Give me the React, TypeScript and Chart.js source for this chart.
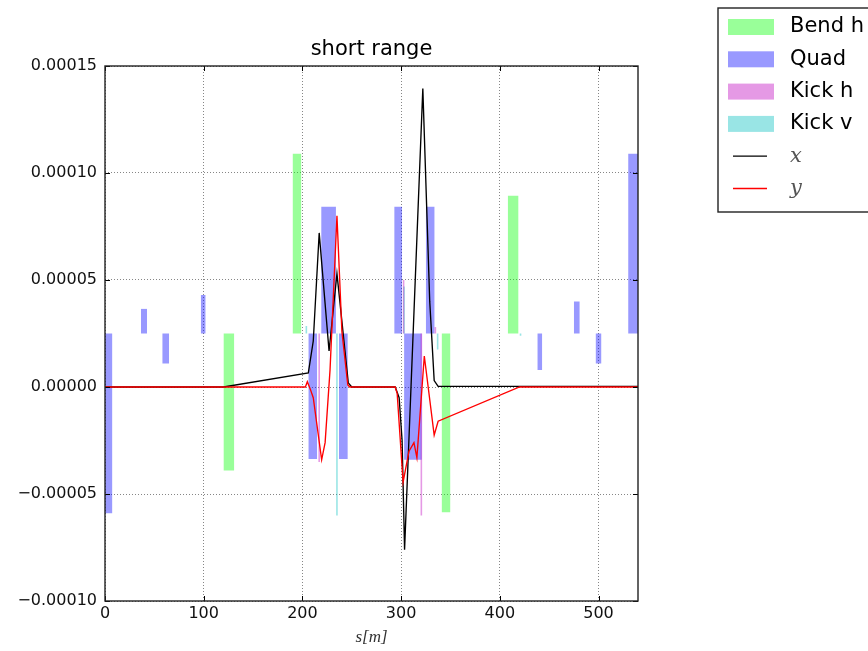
import React, { useEffect, useRef } from "react";
import { Chart, registerables } from "chart.js";

Chart.register(...registerables);

// ---- data ----
const TITLE = "short range";
const BASE = 0.000025; // element baseline
const X_MAX = 540;
const xTicks = [0, 100, 200, 300, 400, 500];
const yTicks = [-0.0001, -0.00005, 0, 0.00005, 0.0001, 0.00015];

const bendStart = [120, 190, 341, 408];
const bendEnd = [131, 199, 350, 419];
const bendValue = [-0.000039, 0.000109, -0.0000585, 0.0000894];

const quadStart = [0, 36.5, 58, 97, 206, 219, 237, 293, 303, 325, 438, 475, 497, 530];
const quadEnd = [7.5, 42.6, 65, 102, 215, 234, 246, 301, 321, 334, 443, 481, 503, 540];
const quadValue = [
  -0.000059, 0.0000365, 0.000011, 0.000043, -0.0000337, 0.0000842, -0.0000337,
  0.0000842, -0.000034, 0.0000842, 0.000008, 0.00004, 0.000011, 0.000109,
];

const kickHPos = [217, 302.5, 320.5, 334.7];
const kickHValue = [-0.000035, 0.00005, -0.00006, 0.000028];

const kickVPos = [204, 235, 303, 337, 421];
const kickVValue = [0.0000285, -0.00006, 0.000047, 0.0000175, 0.000024];

const xLineS = [0, 120, 206, 211, 217, 227, 235, 246.5, 250, 294, 298, 301, 303.5, 322, 329, 333.5, 337.5, 540];
const xLineV = [0, 0, 0.0000066, 0.0000215, 0.000072, 0.0000168, 0.000053, 0.0000019, 0, 0, -0.000005, -0.000025, -0.000076, 0.0001395, 0.00004, 0.000003, 0.0000003, 0.0000003];

const yLineS = [0, 203, 205, 208, 211, 219.5, 223, 228, 235, 240, 246, 248, 294, 296, 302, 308, 313, 316, 323.5, 333.5, 337.5, 420, 540];
const yLineV = [0, 0, 0.0000025, -0.000001, -0.000005, -0.000034, -0.000026, 0.000008, 0.00008, 0.000026, 0.000001, 0, 0, -0.000003, -0.0000445, -0.00003, -0.000026, -0.000033, 0.0000145, -0.0000225, -0.000016, 0, 0];

const BEND_COLOR = "rgba(0,255,0,0.4)";
const QUAD_COLOR = "rgba(0,0,255,0.4)";
const KICKH_COLOR = "rgba(191,0,191,0.4)";
const KICKV_COLOR = "rgba(0,191,191,0.4)";

const legendItems = [
  { label: "Bend h", color: BEND_COLOR, kind: "box" },
  { label: "Quad", color: QUAD_COLOR, kind: "box" },
  { label: "Kick h", color: KICKH_COLOR, kind: "box" },
  { label: "Kick v", color: KICKV_COLOR, kind: "box" },
  { label: "x", color: "#000", kind: "line" },
  { label: "y", color: "#ff0000", kind: "line" },
];

function rectDataset(label: string, s0: number, s1: number, v: number, color: string) {
  return {
    label,
    data: [{ x: s0, y: v }, { x: s1, y: v }],
    fill: { value: BASE },
    backgroundColor: color,
    borderColor: "rgba(0,0,0,0)",
    borderWidth: 0,
    pointRadius: 0,
    order: 3,
  };
}

function kickDataset(label: string, s: number, v: number, color: string) {
  return {
    label,
    data: [{ x: s, y: BASE }, { x: s, y: v }],
    fill: false,
    borderColor: color,
    borderWidth: 1.6,
    pointRadius: 0,
    order: 2,
  };
}

const framePlugin = {
  id: "frameLegend",
  afterDraw(chart: any) {
    const { ctx, chartArea, scales } = chart;
    const { left, right, top, bottom } = chartArea;
    ctx.save();
    ctx.strokeStyle = "#000";
    ctx.lineWidth = 1;
    const seg = (x1: number, y1: number, x2: number, y2: number) => {
      ctx.beginPath();
      ctx.moveTo(x1, y1);
      ctx.lineTo(x2, y2);
      ctx.stroke();
    };
    for (const v of xTicks) {
      const px = Math.round(scales.x.getPixelForValue(v)) + 0.5;
      seg(px, bottom, px, bottom - 5);
      seg(px, top, px, top + 5);
    }
    for (const v of yTicks) {
      const py = Math.round(scales.y.getPixelForValue(v)) + 0.5;
      seg(left, py, left + 5, py);
      seg(right, py, right - 5, py);
    }
    ctx.lineWidth = 1.4;
    ctx.strokeStyle = "#222";
    ctx.strokeRect(left, top, right - left, bottom - top);

    // title, centred over the plot area
    ctx.fillStyle = "#000";
    ctx.font = '21px "DejaVu Sans"';
    ctx.textAlign = "center";
    ctx.textBaseline = "middle";
    ctx.fillText(TITLE, (left + right) / 2, top - 16);

    // legend
    const lx = right + 80;
    const ly = 8;
    ctx.lineWidth = 1.4;
    ctx.strokeStyle = "#222";
    ctx.fillStyle = "#fff";
    ctx.fillRect(lx, ly, 300, 204);
    ctx.strokeRect(lx, ly, 300, 204);
    legendItems.forEach((it, i) => {
      const cy = 27 + i * 32.3;
      if (it.kind === "box") {
        ctx.fillStyle = it.color;
        ctx.fillRect(lx + 10, cy - 8, 46, 16);
        ctx.fillStyle = "#000";
        ctx.font = '21px "DejaVu Sans"';
      } else {
        ctx.strokeStyle = it.color;
        ctx.lineWidth = 1.3;
        seg(lx + 15, cy, lx + 49, cy);
        ctx.fillStyle = "#555";
        ctx.font = 'italic 21px "DejaVu Serif"';
      }
      ctx.textAlign = "left";
      ctx.textBaseline = "middle";
      ctx.fillText(it.label, lx + 72, cy);
    });
    ctx.restore();
  },
};

export default function App() {
  const ref = useRef<HTMLCanvasElement>(null);

  useEffect(() => {
    const datasets: any[] = [];
    datasets.push({
      label: "x",
      data: xLineS.map((s, i) => ({ x: s, y: xLineV[i] })),
      borderColor: "#000",
      borderWidth: 1.35,
      pointRadius: 0,
      fill: false,
      order: 1,
    });
    datasets.push({
      label: "y",
      data: yLineS.map((s, i) => ({ x: s, y: yLineV[i] })),
      borderColor: "#ff0000",
      borderWidth: 1.35,
      pointRadius: 0,
      fill: false,
      order: 0,
    });
    bendStart.forEach((s, i) => datasets.push(rectDataset("Bend h", s, bendEnd[i], bendValue[i], BEND_COLOR)));
    quadStart.forEach((s, i) => datasets.push(rectDataset("Quad", s, quadEnd[i], quadValue[i], QUAD_COLOR)));
    kickHPos.forEach((s, i) => datasets.push(kickDataset("Kick h", s, kickHValue[i], KICKH_COLOR)));
    kickVPos.forEach((s, i) => datasets.push(kickDataset("Kick v", s, kickVValue[i], KICKV_COLOR)));

    const chart = new Chart(ref.current as HTMLCanvasElement, {
      type: "line",
      data: { datasets },
      plugins: [framePlugin],
      options: {
        animation: false,
        responsive: false,
        maintainAspectRatio: false,
        layout: { padding: { left: 0, right: 230, top: 66, bottom: 0 } },
        plugins: {
          legend: { display: false },
          tooltip: { enabled: false },
          title: { display: false },
        },
        scales: {
          x: {
            type: "linear",
            min: 0,
            max: X_MAX,
            afterFit: (s: any) => {
              s.height = 50;
            },
            afterBuildTicks: (s: any) => {
              s.ticks = xTicks.map((v) => ({ value: v }));
            },
            grid: { color: "rgba(0,0,0,0.6)", lineWidth: 0.8, drawTicks: false },
            border: { display: false, dash: [1, 2] },
            ticks: {
              color: "#111",
              font: { family: "DejaVu Sans", size: 16 },
              padding: 3,
              autoSkip: false,
              maxRotation: 0,
              callback: (v: any) => String(v),
            },
            title: {
              display: true,
              text: "s[m]",
              color: "#333",
              font: { family: "Liberation Serif", size: 17, style: "italic" },
              padding: { top: 0, bottom: 3.5 },
            },
          },
          y: {
            type: "linear",
            min: yTicks[0],
            max: yTicks[yTicks.length - 1],
            afterFit: (s: any) => {
              s.width = 105;
            },
            afterBuildTicks: (s: any) => {
              s.ticks = yTicks.map((v) => ({ value: v }));
            },
            grid: { color: "rgba(0,0,0,0.6)", lineWidth: 0.8, drawTicks: false },
            border: { display: false, dash: [1, 2] },
            ticks: {
              color: "#111",
              font: { family: "DejaVu Sans", size: 16 },
              padding: 8,
              autoSkip: false,
              callback: (v: any) => {
                const n = Number(v);
                return (n < -1e-12 ? "\u2212" : "") + Math.abs(n).toFixed(5);
              },
            },
          },
        },
      } as any,
    });
    return () => chart.destroy();
  }, []);

  return (
    <div
      style={{
        position: "fixed",
        left: 0,
        top: 0,
        width: 868,
        height: 651,
        overflow: "hidden",
        background: "#fff",
      }}
    >
      <canvas ref={ref} width={868} height={651} style={{ display: "block" }} />
    </div>
  );
}
